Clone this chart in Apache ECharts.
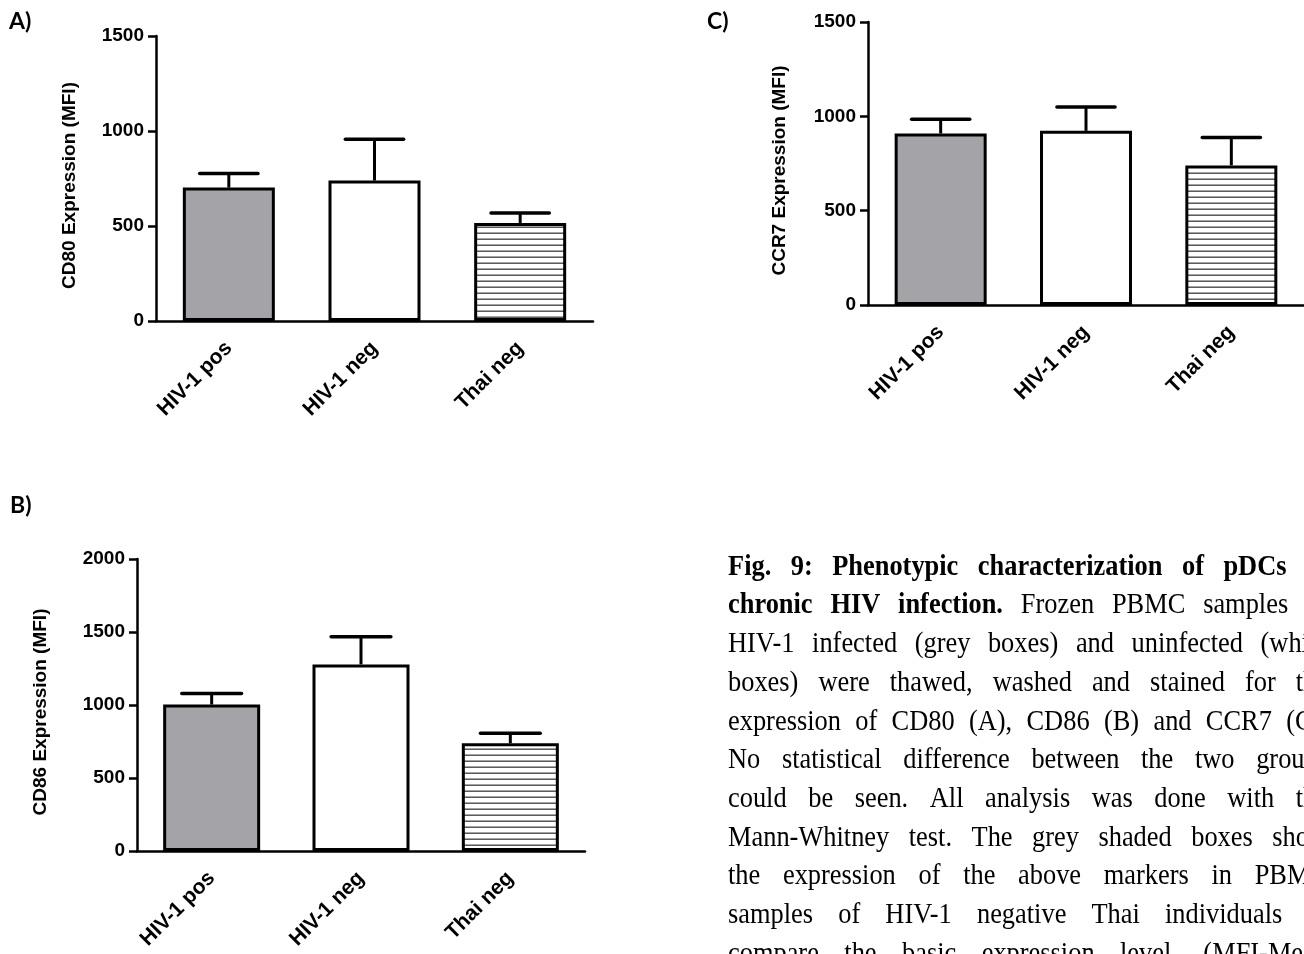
<!DOCTYPE html>
<html><head><meta charset="utf-8">
<script src="https://cdn.jsdelivr.net/npm/echarts@6/dist/echarts.min.js"></script>
<style>html,body{margin:0;padding:0;background:#fff;overflow:hidden}#c{width:1304px;height:954px}</style>
</head><body><div id="c"></div>
<script>
// ---------- data ----------
const categories = ['HIV-1 pos', 'HIV-1 neg', 'Thai neg'];
const cd80Mean = [702, 739, 516];
const cd80Sem  = [74, 217, 52];
const cd86Mean = [1003, 1278, 738];
const cd86Sem  = [76, 190, 68];
const ccr7Mean = [909, 923, 740];
const ccr7Sem  = [76, 127, 148];
const yTicksA = [0, 500, 1000, 1500];
const yTicksB = [0, 500, 1000, 1500, 2000];
const yTicksC = [0, 500, 1000, 1500];

const captionLines = [
  [['Fig. 9: Phenotypic characterization of pDCs in', true]],
  [['chronic HIV infection.', true], ['Frozen PBMC samples of', false]],
  [['HIV-1 infected (grey boxes) and uninfected (white', false]],
  [['boxes) were thawed, washed and stained for the', false]],
  [['expression of CD80 (A), CD86 (B) and CCR7 (C).', false]],
  [['No statistical difference between the two groups', false]],
  [['could be seen. All analysis was done with the', false]],
  [['Mann-Whitney test. The grey shaded boxes show', false]],
  [['the expression of the above markers in PBMC', false]],
  [['samples of HIV-1 negative Thai individuals to', false]],
  [['compare the basic expression level. (MFI-Mean', false]]
];

// ---------- styles ----------
const pc = document.createElement('canvas'); pc.width = 8; pc.height = 6;
const pg = pc.getContext('2d');
pg.fillStyle = '#fff'; pg.fillRect(0, 0, 8, 6);
pg.fillStyle = '#4a4a4a'; pg.fillRect(0, 4.5, 8, 1.4);
const stripe = { image: pc, repeat: 'repeat' };
const fills = ['#a4a3a8', '#ffffff', stripe];

const AX = 'Liberation Sans';
const panels = [
  { grid: { left: 156, top: 36, width: 437, height: 285 }, ticks: yTicksA, mean: cd80Mean, sem: cd80Sem, name: 'CD80 Expression (MFI)', gap: 77, barW: 92 },
  { grid: { left: 137, top: 559, width: 448, height: 292 }, ticks: yTicksB, mean: cd86Mean, sem: cd86Sem, name: 'CD86 Expression (MFI)', gap: 87, barW: 97 },
  { grid: { left: 868, top: 22, width: 436, height: 283 }, ticks: yTicksC, mean: ccr7Mean, sem: ccr7Sem, name: 'CCR7 Expression (MFI)', gap: 79, barW: 92 }
];

const grids = [], xAxes = [], yAxes = [], series = [];
panels.forEach((p, i) => {
  grids.push(Object.assign({ containLabel: false }, p.grid));
  xAxes.push({
    type: 'category', gridIndex: i, data: categories,
    axisLine: { lineStyle: { color: '#000', width: 2.5 } },
    axisTick: { alignWithLabel: true, length: 9, lineStyle: { color: '#000', width: 2.5 } },
    axisLabel: { rotate: 45, margin: 24, color: '#000', fontFamily: AX, fontWeight: 'bold', fontSize: 21 },
    splitLine: { show: false }
  });
  yAxes.push({
    type: 'value', gridIndex: i,
    min: p.ticks[0], max: p.ticks[p.ticks.length - 1], interval: p.ticks[1] - p.ticks[0],
    name: p.name, nameLocation: 'middle', nameGap: p.gap, nameRotate: 90,
    nameTextStyle: { color: '#000', fontFamily: AX, fontWeight: 'bold', fontSize: 19, padding: [0, 14, 0, 0] },
    axisLine: { show: true, lineStyle: { color: '#000', width: 2.5 } },
    axisTick: { show: true, length: 8, lineStyle: { color: '#000', width: 2.5 } },
    axisLabel: { margin: 12, color: '#000', fontFamily: AX, fontWeight: 'bold', fontSize: 19, formatter: v => String(v) },
    splitLine: { show: false }
  });
  series.push({
    type: 'custom', xAxisIndex: i, yAxisIndex: i, z: 1,
    data: p.mean.map((v, k) => [k, v, p.sem[k]]),
    encode: { x: 0, y: 1 },
    renderItem: (params, api) => {
      const k = api.value(0), m = api.value(1), s = api.value(2);
      const a = api.coord([k, m]), b = api.coord([k, m + s]);
      const cw = api.size([1, 0])[0] * 0.40;
      return { type: 'group', children: [
        { type: 'line', shape: { x1: a[0], y1: a[1], x2: b[0], y2: b[1] }, style: { stroke: '#000', lineWidth: 3 } },
        { type: 'line', shape: { x1: b[0] - cw / 2, y1: b[1], x2: b[0] + cw / 2, y2: b[1] }, style: { stroke: '#000', lineWidth: 3.5, lineCap: 'round' } }
      ] };
    }
  });
  series.push({
    type: 'bar', xAxisIndex: i, yAxisIndex: i, z: 2, barWidth: p.barW, animation: false,
    data: p.mean.map((v, k) => ({ value: v, itemStyle: { color: fills[k] } })),
    itemStyle: { borderColor: '#000', borderWidth: 3 }
  });
});

// ---------- caption (justified) ----------
const CAP_FONT = 30, CAP_SX = 0.88, CAP_LEFT = 728, CAP_W = 600, CAP_BASE = 577, CAP_PITCH = 38.7;
const CAP_FAMILY = 'Liberation Serif';
const mctx = document.createElement('canvas').getContext('2d');
const graphics = [];
captionLines.forEach((segs, li) => {
  const words = [];
  segs.forEach(([txt, bold]) => txt.split(' ').forEach(w => words.push({ w, bold })));
  words.forEach(o => {
    mctx.font = (o.bold ? 'bold ' : 'normal ') + CAP_FONT + 'px "' + CAP_FAMILY + '"';
    o.width = mctx.measureText(o.w).width * CAP_SX;
  });
  const total = words.reduce((s, o) => s + o.width, 0);
  const gap = (CAP_W - total) / (words.length - 1);
  let x = CAP_LEFT;
  const y = CAP_BASE + li * CAP_PITCH - CAP_FONT * 0.3375;
  words.forEach(o => {
    graphics.push({ type: 'text', x: x, y: y, scaleX: CAP_SX, silent: true,
      style: { text: o.w, fontSize: CAP_FONT, fontFamily: CAP_FAMILY, fontWeight: o.bold ? 'bold' : 'normal',
               fill: '#000', align: 'left', verticalAlign: 'middle' } });
    x += o.width + gap;
  });
});
const panelLabel = (t, x, y) => ({ type: 'text', x, y, silent: true,
  style: { text: t, fontSize: 23, fontFamily: 'Lato', fontWeight: 'bold', fill: '#000', align: 'left', verticalAlign: 'top' } });
graphics.push(panelLabel('A)', 9, 10), panelLabel('B)', 10, 494), panelLabel('C)', 707, 10));

const chart = echarts.init(document.getElementById('c'), null, { renderer: 'canvas' });
chart.setOption({
  animation: false, backgroundColor: '#fff',
  grid: grids, xAxis: xAxes, yAxis: yAxes, series: series, graphic: graphics
});
</script></body></html>
